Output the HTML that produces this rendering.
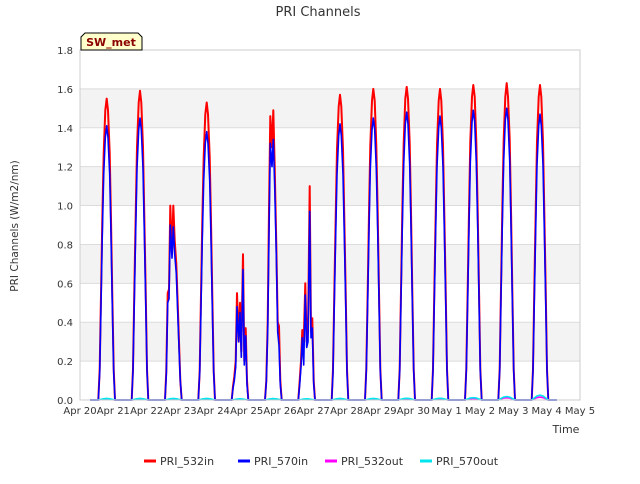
<!DOCTYPE html>
<html><head><meta charset="utf-8"><style>
body{margin:0;background:#fff;font-family:"DejaVu Sans","Liberation Sans",sans-serif;}
svg text{font-family:"DejaVu Sans","Liberation Sans",sans-serif;}
</style></head><body>
<svg id="chart" width="640" height="480" viewBox="0 0 640 480">
<text x="318" y="16" text-anchor="middle" font-size="13" fill="#333">PRI Channels</text>
<text transform="translate(18,226) rotate(-90)" text-anchor="middle" font-size="10.5" fill="#333">PRI Channels (W/m2/nm)</text>
<text x="566" y="433" text-anchor="middle" font-size="11" fill="#333">Time</text>
<g id="bands"></g><g id="grid"></g><g id="series"></g><g id="ticks"></g>
<rect x="80" y="50" width="500" height="350" fill="none" stroke="#ccc"/>
<g>
<path d="M81,50 L81,37 L85,33 L138,33 L142,37 L142,50 Z" fill="#ffffcc" stroke="#000"/>
<text x="111" y="46" text-anchor="middle" font-size="11" font-weight="bold" fill="#8b0000">SW_met</text>
</g>
<g id="legend"></g>
</svg>
<script>
const yTicks=[0,0.2,0.4,0.6,0.8,1.0,1.2,1.4,1.6,1.8];
const xTickLabels=["Apr 20","Apr 21","Apr 22","Apr 23","Apr 24","Apr 25","Apr 26","Apr 27","Apr 28","Apr 29","Apr 30","May 1","May 2","May 3","May 4","May 5"];
const dayFrac=[0.55,0.59,0.63,0.67,0.71,0.76,0.80,0.84,0.89,0.93,0.97,1.01,1.05];
const red532in=[
[0,0.16,0.54,0.93,1.27,1.49,1.55,1.49,1.27,0.93,0.54,0.16,0],
[0,0.16,0.56,0.95,1.30,1.53,1.59,1.53,1.30,0.95,0.56,0.16,0],
[0,0.15,0.55,0.57,1.0,0.75,1.0,0.82,0.7,0.5,0.3,0.1,0],
[0,0.15,0.54,0.92,1.25,1.47,1.53,1.47,1.25,0.92,0.54,0.15,0],
[0,0.07,0.12,0.2,0.55,0.3,0.5,0.25,0.75,0.2,0.37,0.1,0],
[0,0.1,0.4,0.98,1.46,1.3,1.49,1.2,0.8,0.4,0.38,0.1,0],
[0,0.1,0.2,0.36,0.3,0.6,0.3,0.35,1.1,0.35,0.42,0.1,0],
[0,0.16,0.55,0.94,1.29,1.51,1.57,1.51,1.29,0.94,0.55,0.16,0],
[0,0.16,0.56,0.96,1.31,1.54,1.6,1.54,1.31,0.96,0.56,0.16,0],
[0,0.16,0.56,0.97,1.32,1.55,1.61,1.55,1.32,0.97,0.56,0.16,0],
[0,0.16,0.56,0.96,1.31,1.54,1.6,1.54,1.31,0.96,0.56,0.16,0],
[0,0.16,0.57,0.97,1.33,1.56,1.62,1.56,1.33,0.97,0.57,0.16,0],
[0,0.16,0.57,0.98,1.34,1.56,1.63,1.56,1.34,0.98,0.57,0.16,0],
[0,0.16,0.57,0.97,1.33,1.56,1.62,1.56,1.33,0.97,0.57,0.16,0]];
const blue570in=[
[0,0.14,0.49,0.85,1.16,1.35,1.41,1.35,1.16,0.85,0.49,0.14,0],
[0,0.15,0.51,0.87,1.19,1.39,1.45,1.39,1.19,0.87,0.51,0.15,0],
[0,0.13,0.5,0.52,0.9,0.73,0.89,0.75,0.65,0.45,0.27,0.1,0],
[0,0.14,0.48,0.83,1.13,1.32,1.38,1.32,1.13,0.83,0.48,0.14,0],
[0,0.06,0.1,0.17,0.48,0.3,0.45,0.22,0.67,0.18,0.33,0.08,0],
[0,0.09,0.36,0.85,1.32,1.2,1.34,1.1,0.75,0.35,0.28,0.08,0],
[0,0.08,0.17,0.32,0.18,0.54,0.27,0.3,0.97,0.32,0.37,0.08,0],
[0,0.14,0.5,0.85,1.16,1.36,1.42,1.36,1.16,0.85,0.5,0.14,0],
[0,0.15,0.51,0.87,1.19,1.39,1.45,1.39,1.19,0.87,0.51,0.15,0],
[0,0.15,0.52,0.89,1.21,1.42,1.48,1.42,1.21,0.89,0.52,0.15,0],
[0,0.15,0.51,0.88,1.2,1.4,1.46,1.4,1.2,0.88,0.51,0.15,0],
[0,0.15,0.52,0.89,1.22,1.43,1.49,1.43,1.22,0.89,0.52,0.15,0],
[0,0.15,0.53,0.9,1.23,1.44,1.5,1.44,1.23,0.9,0.53,0.15,0],
[0,0.15,0.51,0.88,1.21,1.41,1.47,1.41,1.21,0.88,0.51,0.15,0]];
const out532Peaks=[0.004,0.004,0.004,0.004,0.003,0.004,0.003,0.004,0.004,0.005,0.005,0.008,0.012,0.015];
const out570Peaks=[0.008,0.008,0.008,0.008,0.006,0.007,0.006,0.008,0.008,0.009,0.009,0.012,0.018,0.025];
const outFrac=[0.55,0.7,0.8,0.9,1.05];
const outShape=[0,0.8,1,0.8,0];

const NS="http://www.w3.org/2000/svg";
const X0=80,X1=580,Y0=400,Y1=50,DAYS=15,YMAX=1.8;
const xs=d=>X0+(d/DAYS)*(X1-X0);
const ys=v=>Y0-(v/YMAX)*(Y0-Y1);
function mk(tag,attrs,parent){const e=document.createElementNS(NS,tag);for(const k in attrs)e.setAttribute(k,attrs[k]);parent.appendChild(e);return e;}
const bands=document.getElementById('bands'),grid=document.getElementById('grid'),ticks=document.getElementById('ticks'),series=document.getElementById('series'),legend=document.getElementById('legend');
for(let i=0;i<yTicks.length-1;i++){
  if(i%2===1){const r=mk('rect',{x:X0,y:ys(yTicks[i+1]),width:X1-X0,height:ys(yTicks[i])-ys(yTicks[i+1]),fill:'#f3f3f3'},bands);
  
  }
}
yTicks.forEach(v=>{
  const l=mk('line',{x1:X0,x2:X1,y1:ys(v),y2:ys(v),stroke:'#dcdcdc'},grid);
  
  
  const t=mk('text',{x:X0-7,y:ys(v)+4,'text-anchor':'end','font-size':'10',fill:'#333'},ticks);
  t.textContent=v.toFixed(1);
  
  
});
xTickLabels.forEach((s,i)=>{
  const t=mk('text',{x:xs(i),y:414,'text-anchor':'middle','font-size':'10',fill:'#333'},ticks);
  t.textContent=s;
  
  
});
function dailyPath(rows,frac){
  let pts=[[0.3,0]];
  rows.forEach((row,d)=>row.forEach((v,j)=>pts.push([d+frac[j],v])));
  pts.push([14.3,0]);
  return pts.map((p,i)=>(i?'L':'M')+xs(p[0]).toFixed(1)+','+ys(p[1]).toFixed(1)).join(' ');
}
const outRows=(pk)=>pk.map(p=>outShape.map(s=>s*p));
const defs=[
 ['line-pri-532in',red532in,dayFrac,'#ff0000',2],
 ['line-pri-570in',blue570in,dayFrac,'#0000ff',1.6],
 ['line-pri-532out',outRows(out532Peaks),outFrac,'#ff00ff',1.6],
 ['line-pri-570out',outRows(out570Peaks),outFrac,'#00e5ee',1.6]];
defs.forEach(d=>{
  const p=mk('path',{d:dailyPath(d[1],d[2]),fill:'none',stroke:d[3],'stroke-width':d[4],'stroke-linejoin':'round'},series);
  
  
});
const legItems=[['PRI_532in','#ff0000',144],['PRI_570in','#0000ff',238],['PRI_532out','#ff00ff',325],['PRI_570out','#00e5ee',420]];
legItems.forEach(it=>{
  const g=mk('g',{},legend);
  
  
  mk('line',{x1:it[2],x2:it[2]+12,y1:461,y2:461,stroke:it[1],'stroke-width':3},g);
  const t=mk('text',{x:it[2]+16,y:465,'font-size':'11',fill:'#333'},g);
  t.textContent=it[0];
});
</script>
</body></html>
